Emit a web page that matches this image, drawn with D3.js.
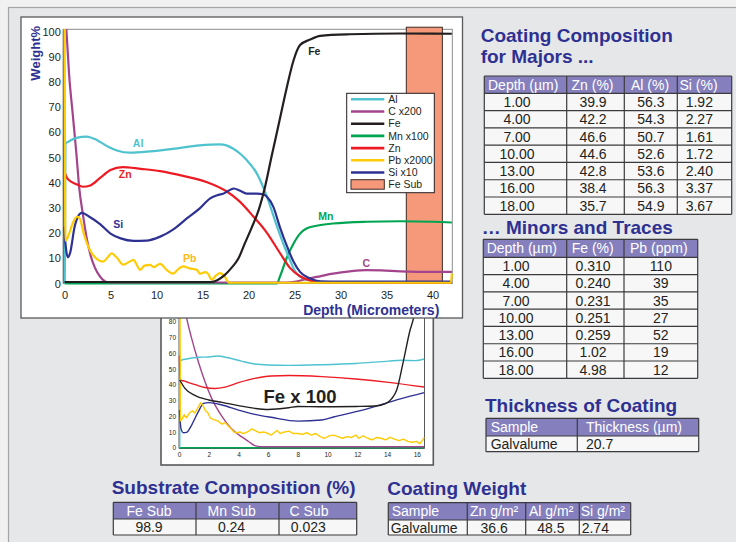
<!DOCTYPE html>
<html><head><meta charset="utf-8">
<script src="https://cdn.jsdelivr.net/npm/d3@7"></script>
<style>
html,body{margin:0;padding:0;background:#f1f1f2;}
svg{display:block;font-family:"Liberation Sans",Arial,Helvetica,sans-serif;}
</style></head><body>
<svg id="c" width="736" height="542"></svg>
<script>
// ---------- Depth profile (GDOES) series: [depth µm, weight %] ----------
const alProfile = [[0.03,0],[0.1,55.5],[0.4,56.2],[1.3,57.8],[2.4,58.3],[3.3,57.3],[3.9,56.1],[4.8,54.2],[5.7,52.8],[7.1,51.9],[9.3,52.4],[11.8,53.4],[14.7,54.8],[16.9,55.2],[17.6,54.8],[18.3,53.6],[19.1,51.5],[19.8,49],[20.9,43.7],[22,34.5],[23.1,22.6],[24.2,12],[25.2,4.1],[26.3,1.5],[28,0.5],[32,0.3],[42.1,0.3]];
const cProfile = [[0.2,101],[0.5,83],[0.9,67],[1.3,51.2],[1.6,38],[2.0,27.4],[2.4,18.3],[2.8,11.6],[3.3,6.3],[3.9,2.6],[4.6,0.6],[5.5,0.4],[24,0.4],[25.2,0.8],[26.3,1.8],[27.4,2.6],[29.2,3.9],[31,4.8],[32.8,5.3],[34.5,5.2],[36.5,4.8],[40.1,4.6],[42.1,4.6]];
const feProfile = [[0,0.6],[15.9,0.6],[16.6,1.3],[17.4,3.3],[18.1,6],[18.9,9.9],[19.6,15.9],[20.3,21.8],[21.1,29.1],[21.8,38.4],[22.5,50.3],[23.3,63.5],[24.1,76.8],[24.9,88.6],[25.6,94.6],[26.7,96.8],[27.8,98.3],[31,98.9],[36.5,99.2],[42.1,99.1]];
const mnProfile = [[0,0],[23.1,0],[23.4,2.6],[24.2,10.6],[24.9,15.9],[25.6,19.8],[26.3,21.8],[27.4,22.9],[29.2,23.8],[32.8,24.5],[36.5,24.7],[40.1,24.5],[42.1,24.2]];
const znProfile = [[0,58],[0.05,44],[0.3,41.8],[0.5,41],[1.3,39.4],[2.0,38.4],[2.8,38.9],[3.9,42],[5.0,45],[6.3,46.2],[8.3,45.5],[10.4,44.6],[13,42.6],[15.5,40.2],[17.6,36.6],[19,32.7],[20.5,26.7],[22,20.1],[23.4,12.2],[24.5,6.2],[25.6,2.9],[26.7,1.2],[28,0.4],[42.1,0.3]];
const pbProfile = [[0.02,101],[0.1,17],[0.25,17.5],[0.5,19.7],[0.9,24],[1.4,26.5],[1.7,25.5],[2.1,19.7],[2.8,13],[3.5,9.8],[4.2,8.7],[4.7,10.4],[5.1,12],[5.7,10.2],[6.4,7.5],[7.0,8.5],[7.5,9.4],[7.8,7.8],[8.2,5.4],[8.7,7.1],[9.3,7.4],[9.7,6.5],[10.4,7.8],[11.1,5.4],[11.8,3.9],[12.4,5.8],[12.9,6.8],[13.6,6],[14.4,5.4],[14.7,3.9],[15.3,4.5],[15.6,3.9],[16.0,1.5],[16.5,3.3],[16.9,4.1],[17.4,2.9],[17.9,0.3],[42.0,0.3],[42.1,4]];
const siProfile = [[0,22.5],[0.1,16],[0.37,10.4],[0.6,12],[1.1,22.5],[1.6,27.4],[1.9,28],[2.7,26.5],[3.9,23.5],[5,19.8],[6.1,17.9],[7.5,16.9],[8.9,17],[10.4,18.6],[11.8,21.4],[13.3,25.8],[14.7,29.8],[15.8,33.7],[16.6,35],[17.3,35.7],[18.4,37.7],[19.1,36.8],[19.8,35.7],[20.9,35.7],[21.6,35.4],[22,34.4],[22.7,30.4],[23.4,22.5],[24.2,14.6],[24.9,8.6],[25.6,4.6],[26.7,2],[27.8,0.9],[30,0.8],[42.1,0.8]];
// substrate band: start depth, end depth, top value
const feSubBand = [37.15, 41.07, 101.7];

// ---------- Coating close-up (0–16.5 µm, Fe x 100) ----------
const insetAl = [[0.05,0],[0.08,55],[0.2,55.7],[0.6,56.5],[1.3,57.4],[2.0,57.6],[2.6,58.2],[3.3,57.1],[4.2,55],[5.1,53.1],[6.0,52.5],[7.4,52.3],[9.6,52.7],[11.9,53.5],[14.1,55],[15.0,55.5],[15.9,55.3],[16.5,56.3]];
const insetZn = [[0.03,58.5],[0.06,43],[0.3,42.5],[0.6,41.5],[1.1,40],[1.75,38.2],[2.4,37.6],[3.1,38.5],[4.0,41.3],[5.1,44],[6.2,45.5],[7.4,45.8],[9.6,45.1],[11.9,43.6],[14.1,41.5],[16.5,38.5]];
const insetFe = [[0.05,43],[0.4,37.7],[1.1,33],[2.0,30.3],[2.9,28.8],[4.0,26.7],[5.1,25],[6.0,24.3],[7.4,25.4],[8.0,26.2],[9.6,26],[11.9,26.2],[13.2,26.5],[13.9,28],[14.3,31],[14.65,36.6],[15.1,55],[15.55,74.7],[15.8,83],[16.0,95]];
const insetSi = [[0.03,23.9],[0.13,12.3],[0.3,9.5],[0.5,9.7],[0.85,14.4],[1.3,22.9],[1.65,28.1],[2.0,28.6],[2.9,27.1],[4.0,23.9],[5.1,21.2],[6.2,19.3],[8.0,16.9],[9.6,17.6],[10.4,19.5],[12.6,24.5],[14.9,31],[16.5,35]];
const insetC = [[0.2,100],[0.5,83],[0.85,69.4],[1.3,54.6],[1.75,41.9],[2.2,31.3],[2.9,19.7],[3.5,12.3],[4.2,7],[4.7,3.8],[5.1,1.3],[5.5,0.6],[16.5,0.6]];
const insetMn = [[0,0],[16.5,0]];
const insetPb = [[0.07,90],[0.1,17],[0.2,18],[0.35,21],[0.5,19],[0.7,22],[0.9,23.5],[1.05,22],[1.25,25],[1.45,28.5],[1.6,27],[1.75,24],[1.95,22],[2.1,19],[2.3,18],[2.6,17],[2.9,15],[3.1,16],[3.3,14],[3.5,12],[3.7,10],[3.9,9.5],[4.1,10],[4.3,9],[4.5,9.5],[4.7,10.5],[4.9,12],[5.1,11],[5.4,9.5],[5.7,10],[6.0,9],[6.2,8],[6.4,9.5],[6.6,11],[6.8,9],[7.1,10],[7.4,10.5],[7.7,9],[8.0,9],[8.3,8.5],[8.6,9.5],[8.9,8],[9.2,9],[9.5,7],[9.8,6],[10.1,7.5],[10.4,8],[10.7,7],[11.0,6],[11.3,7],[11.6,6.5],[11.9,8],[12.1,6],[12.4,7.5],[12.7,6],[13.0,5],[13.3,6.5],[13.6,6],[13.9,5],[14.2,6.5],[14.5,5.5],[14.8,4.5],[15.1,5.5],[15.4,4],[15.7,3.5],[16.0,4],[16.2,2.5],[16.4,5],[16.5,6.5]];

// ---------- Axis ticks ----------
const mainXTicks = [0,5,10,15,20,25,30,35,40];
const mainYTicks = [0,10,20,30,40,50,60,70,80,90,100];
const insetXTicks = [0,2,4,6,8,10,12,14,16];
const insetYTicks = [0,10,20,30,40,50,60,70,80];

// ---------- Legend ----------
const legendNames = ["Al","C x200","Fe","Mn x100","Zn","Pb x2000","Si x10","Fe Sub"];
const colors = {Al:"#4ec3cf", C:"#a3458c", Fe:"#231f20", Mn:"#00a551", Zn:"#ed1c24", Pb:"#ffcb05", Si:"#2e3192", FeSub:"#f6997b"};
const legendKeys = ["Al","C","Fe","Mn","Zn","Pb","Si","FeSub"];
// curve name labels: [name, depth, weight%]
const curveLabels = [["Al",8.0,55.6],["Zn",6.6,43.3],["Si",5.85,23.5],["Pb",13.6,10],["Fe",27.15,92],["Mn",28.4,26.5],["C",32.8,8]];

// ---------- Tables ----------
const majorsDepth = [1,4,7,10,13,16,18];
const majorsZn = [39.9,42.2,46.6,44.6,42.8,38.4,35.7];
const majorsAl = [56.3,54.3,50.7,52.6,53.6,56.3,54.9];
const majorsSi = [1.92,2.27,1.61,1.72,2.40,3.37,3.67];
const minorsFe = [0.310,0.240,0.231,0.251,0.259,1.02,4.98];
const minorsPb = [110,39,35,27,52,19,12];
const thicknessSample = "Galvalume";
const thicknessValue = 20.7;
const substrateHeaders = ["Fe Sub","Mn Sub","C Sub"];
const substrateValues = [98.9,0.24,0.023];
const weightHeaders = ["Sample","Zn g/m²","Al g/m²","Si g/m²"];
const weightValues = [36.6,48.5,2.74];

const svg = d3.select("#c");
const NAVY = "#2e3192", INK = "#231f20", HEAD = "#857fbe";

// outer frame
svg.append("rect").attr("x",8.5).attr("y",7.5).attr("width",800).attr("height",600)
  .attr("fill","#e6e7e8").attr("stroke","#a3a5a8").attr("stroke-width",1.2);

const lineOf = (x,y,curve) => d3.line().x(d=>x(d[0])).y(d=>y(d[1])).curve(curve);

// ================= close-up panel =================
const xIn = d3.scaleLinear().domain([0,16.52]).range([179,424.5]);
const yIn = d3.scaleLinear().domain([0,80]).range([447.7,321.7]);
svg.append("rect").attr("x",161).attr("y",290).attr("width",272.3).attr("height",175)
  .attr("fill","#fff").attr("stroke","#58595b").attr("stroke-width",1.6);
svg.append("defs").append("clipPath").attr("id","inClip").append("rect")
  .attr("x",176).attr("y",290).attr("width",250).attr("height",160);
const gi = svg.append("g");
gi.append("path").attr("d",`M179,300V448.5H424.5V300`).attr("fill","none").attr("stroke","#58595b").attr("stroke-width",1);
const gix = gi.append("g").attr("transform","translate(0,447.7)")
  .call(d3.axisBottom(xIn).tickValues(insetXTicks).tickSize(0).tickPadding(5));
const giy = gi.append("g").attr("transform","translate(179,0)")
  .call(d3.axisLeft(yIn).tickValues(insetYTicks).tickSize(0).tickPadding(3));
[gix,giy].forEach(a=>{a.select(".domain").remove();
  a.selectAll("text").attr("font-size",6.5).attr("fill",INK).attr("font-family","Liberation Sans, Arial, sans-serif");});
const insetSeries = [[insetMn,"Mn"],[insetC,"C"],[insetAl,"Al"],[insetZn,"Zn"],[insetSi,"Si"],[insetPb,"Pb"],[insetFe,"Fe"]];
const gil = gi.append("g").attr("clip-path","url(#inClip)");
insetSeries.forEach(([d,k])=>{
  gil.append("path").datum(d).attr("fill","none").attr("stroke",colors[k]).attr("stroke-width",1.4)
    .attr("stroke-linejoin","round")
    .attr("d",lineOf(xIn,yIn,k==="Pb"?d3.curveLinear:d3.curveMonotoneX));
});
gi.append("text").attr("x",300).attr("y",403).attr("text-anchor","middle")
  .attr("font-size",18.5).attr("font-weight","bold").attr("fill",INK).text("Fe x 100");

// ================= main profile panel =================
svg.append("rect").attr("x",21).attr("y",17).attr("width",441.5).attr("height",301)
  .attr("fill","#fff").attr("stroke","#58595b").attr("stroke-width",1.3);
const xM = d3.scaleLinear().domain([-0.13,42.15]).range([63.3,452.3]);
const yM = d3.scaleLinear().domain([0,100]).range([283.5,31.5]);
const gm = svg.append("g");
gm.append("rect").attr("x",63.3).attr("y",29.3).attr("width",389).attr("height",254.2)
  .attr("fill","none").attr("stroke","#8a8c8f").attr("stroke-width",1);
gm.append("line").attr("x1",63.3).attr("x2",63.3).attr("y1",29.3).attr("y2",283.5).attr("stroke","#58595b");

// substrate band
gm.append("rect").attr("x",xM(feSubBand[0])).attr("width",xM(feSubBand[1])-xM(feSubBand[0]))
  .attr("y",yM(feSubBand[2])).attr("height",yM(0)-yM(feSubBand[2]))
  .attr("fill",colors.FeSub).attr("stroke","#3d2a24").attr("stroke-width",1);

const gmx = gm.append("g").attr("transform","translate(0,283.5)")
  .call(d3.axisBottom(xM).tickValues(mainXTicks).tickSize(0).tickPadding(7.4));
const gmy = gm.append("g").attr("transform","translate(63.3,0)")
  .call(d3.axisLeft(yM).tickValues(mainYTicks).tickSize(0).tickPadding(2.5));
[gmx,gmy].forEach(a=>{a.select(".domain").remove();
  a.selectAll("text").attr("font-size",11).attr("fill",INK).attr("font-family","Liberation Sans, Arial, sans-serif");});

const mainSeries = [[mnProfile,"Mn"],[cProfile,"C"],[alProfile,"Al"],[znProfile,"Zn"],[siProfile,"Si"],[pbProfile,"Pb"],[feProfile,"Fe"]];
mainSeries.forEach(([d,k])=>{
  gm.append("path").datum(d).attr("fill","none").attr("stroke",colors[k]).attr("stroke-width",2.2)
    .attr("stroke-linejoin","round").attr("d",lineOf(xM,yM,d3.curveMonotoneX));
});

gm.selectAll("text.clab").data(curveLabels).join("text").attr("class","clab")
  .attr("x",d=>xM(d[1])).attr("y",d=>yM(d[2])+3.6).attr("text-anchor","middle")
  .attr("font-size",10.5).attr("font-weight","bold")
  .attr("fill",d=>d[0]==="Pb"?"#fdb913":colors[d[0]]).text(d=>d[0]);

// legend
const lg = gm.append("g").attr("transform","translate(346.7,93.3)");
lg.append("rect").attr("width",87.6).attr("height",99.4).attr("fill","#fff").attr("stroke",INK).attr("stroke-width",1);
legendNames.forEach((n,i)=>{
  const cy = 6 + i*12.2, k = legendKeys[i];
  if (k==="FeSub") {
    lg.append("rect").attr("x",4.3).attr("y",cy-5).attr("width",33.3).attr("height",9.5)
      .attr("fill",colors.FeSub).attr("stroke","#3d2a24").attr("stroke-width",1);
  } else {
    lg.append("line").attr("x1",4.3).attr("x2",37.6).attr("y1",cy).attr("y2",cy)
      .attr("stroke",colors[k]).attr("stroke-width",2.6);
  }
  lg.append("text").attr("x",41.6).attr("y",cy+3.8).attr("font-size",10.5).attr("fill",INK).text(n);
});

// axis titles
svg.append("text").attr("transform","translate(39.8,53.3) rotate(-90)").attr("text-anchor","middle")
  .attr("font-size",13).attr("font-weight","bold").attr("fill",NAVY).text("Weight%");
svg.append("text").attr("x",439.3).attr("y",315).attr("text-anchor","end")
  .attr("font-size",14).attr("font-weight","bold").attr("fill",NAVY).text("Depth (Micrometers)");

// ================= tables =================
function title(x,y,t){
  svg.append("text").attr("x",x).attr("y",y).attr("font-size",19).attr("font-weight","bold").attr("fill",NAVY).text(t);
}
// spec: edges (x), top, headBottom, bottom, headers, rows, headPos [[x,anchor]], cellPos [[x,anchor]]
function table(s){
  const g = svg.append("g");
  const x0 = s.edges[0], x1 = s.edges[s.edges.length-1];
  const n = s.rows.length, rh = (s.bottom - s.headBottom)/n;
  g.append("rect").attr("x",x0).attr("y",s.top).attr("width",x1-x0).attr("height",s.headBottom-s.top).attr("fill",HEAD);
  g.append("rect").attr("x",x0).attr("y",s.headBottom).attr("width",x1-x0).attr("height",s.bottom-s.headBottom).attr("fill","#f7f7f7");
  const ys = [s.top, s.headBottom].concat(d3.range(1,n+1).map(i=>s.headBottom+i*rh));
  g.selectAll("line.h").data(ys).join("line").attr("x1",x0).attr("x2",x1).attr("y1",d=>d).attr("y2",d=>d)
    .attr("stroke","#3b3b3d").attr("stroke-width",1.2);
  g.selectAll("line.v").data(s.edges).join("line").attr("x1",d=>d).attr("x2",d=>d).attr("y1",s.top).attr("y2",s.bottom)
    .attr("stroke","#3b3b3d").attr("stroke-width",1.2);
  const hc = (s.top+s.headBottom)/2;
  s.headers.forEach((h,j)=>{
    g.append("text").attr("x",s.headPos[j][0]).attr("y",hc+5).attr("text-anchor",s.headPos[j][1])
      .attr("font-size",14).attr("fill","#fff").text(h);
  });
  s.rows.forEach((r,i)=>{
    const cy = s.headBottom + (i+0.5)*rh;
    r.forEach((v,j)=>{
      g.append("text").attr("x",s.cellPos[j][0]).attr("y",cy+5).attr("text-anchor",s.cellPos[j][1])
        .attr("font-size",14).attr("fill",INK).text(v);
    });
  });
}
const f2 = d3.format(".2f"), f3 = d3.format(".3r");

title(480.7,41.5,"Coating Composition");
title(480.7,63,"for Majors ...");
table({edges:[484.3,566.7,624.3,677.3,731.7], top:76, headBottom:93.3, bottom:214.3,
  headers:["Depth (µm)","Zn (%)","Al (%)","Si (%)"],
  rows: majorsDepth.map((d,i)=>[f2(d), f3(majorsZn[i]), f3(majorsAl[i]), f3(majorsSi[i])]),
  headPos:[[488,"start"],[571.5,"start"],[631,"start"],[679.5,"start"]],
  cellPos:[[517,"middle"],[593,"middle"],[650.8,"middle"],[699.3,"middle"]]});

title(481.7,234,"… Minors and Traces");
table({edges:[483.3,566.7,624,697.7], top:239.3, headBottom:257.3, bottom:378.3,
  headers:["Depth (µm)","Fe (%)","Pb (ppm)"],
  rows: majorsDepth.map((d,i)=>[f2(d), f3(minorsFe[i]), String(minorsPb[i])]),
  headPos:[[486.7,"start"],[571.7,"start"],[630,"start"]],
  cellPos:[[516,"middle"],[593,"middle"],[660.8,"middle"]]});

title(485,411.7,"Thickness of Coating");
table({edges:[486,577.3,698.7], top:418.3, headBottom:436, bottom:451.7,
  headers:["Sample","Thickness (µm)"],
  rows:[[thicknessSample, String(thicknessValue)]],
  headPos:[[490.7,"start"],[586,"start"]],
  cellPos:[[490.7,"start"],[586,"start"]]});

title(111.7,494,"Substrate Composition (%)");
table({edges:[113.3,196,279,356.7], top:502.3, headBottom:519, bottom:535,
  headers:substrateHeaders,
  rows:[substrateValues.map(String)],
  headPos:[[149,"middle"],[231.7,"middle"],[309,"middle"]],
  cellPos:[[149,"middle"],[231.5,"middle"],[308.3,"middle"]]});

title(387.3,495,"Coating Weight");
table({edges:[388.3,467.3,525.7,579.3,630.7], top:502.7, headBottom:520, bottom:535,
  headers:weightHeaders,
  rows:[[thicknessSample].concat(weightValues.map(String))],
  headPos:[[391.7,"start"],[470,"start"],[529,"start"],[580.7,"start"]],
  cellPos:[[390.7,"start"],[494.2,"middle"],[550.8,"middle"],[581.7,"start"]]});
</script></body></html>
